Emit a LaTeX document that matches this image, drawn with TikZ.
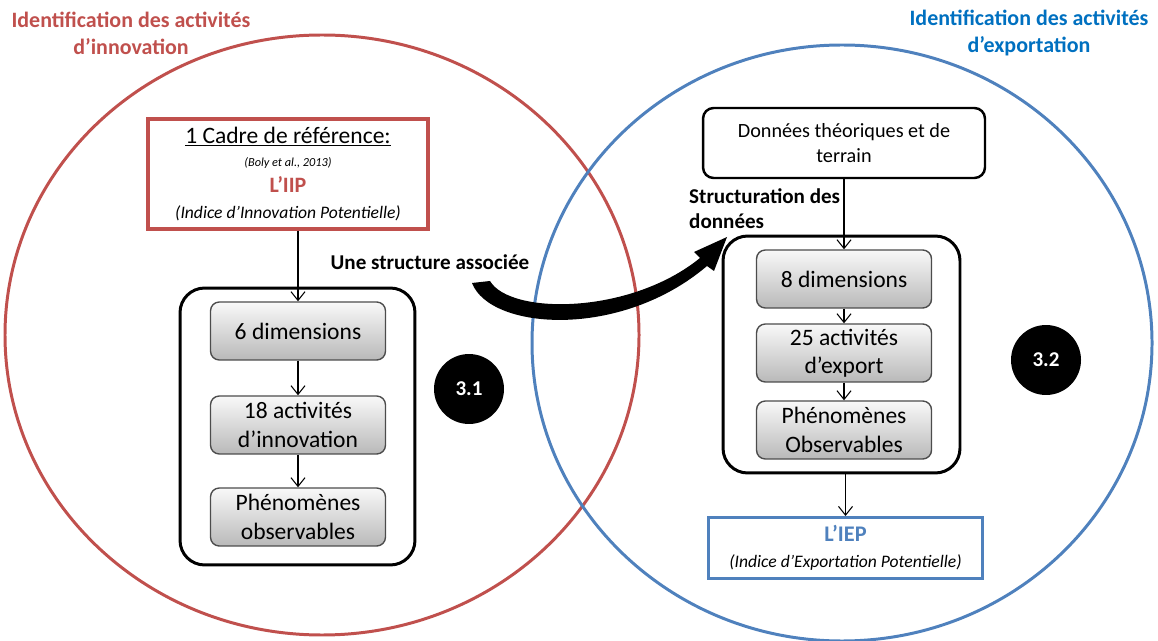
\documentclass[tikz,border=0pt]{standalone}
\usepackage{fontspec}
\setmainfont{Carlito}
\usetikzlibrary{arrows.meta}
\definecolor{rouge}{HTML}{C0504D}
\definecolor{bleu}{HTML}{4F81BD}
\definecolor{bleutitre}{HTML}{0070C0}

\begin{document}
\begin{tikzpicture}[x=0.02cm, y=-0.02cm,
	fleche/.style={line width=0.6pt, -{Straight Barb[length=5pt, width=8pt]}},
	bigbox/.style={draw, line width=1.7pt, rounded corners=14pt},
	graybox/.style={draw=black!70, line width=0.8pt, rounded corners=5pt, top color=gray!5, bottom color=gray!55,
		minimum width=3.5cm, minimum height=1.16cm, inner sep=1pt, align=center, font=\fontsize{13.4}{16.2}\selectfont},
	disque/.style={circle, fill=black, text=white, minimum size=1.4cm, font=\fontsize{12}{14}\bfseries},
	titre/.style={align=center, font=\fontsize{12.5}{15.3}\bfseries}]
	\useasboundingbox (0,0) rectangle (1158,641);
	%
	% les deux cercles
	\draw[rouge, line width=1.7pt] (322,335) ellipse [x radius=317, y radius=300];
	\draw[bleu, line width=1.7pt] (842,343) ellipse [x radius=310, y radius=298];
	%
	% titres
	\node[titre, text=rouge] (tinno) at (131,33) {Identification des activités\\d’innovation};
	\node[titre, text=bleutitre] (texpo) at (1029,33) {Identification des activités\\d’exportation};
	%
	% partie gauche
	\node[draw=rouge, line width=1.9pt, minimum width=5.6cm, minimum height=2.2cm, align=center, inner sep=2pt] (cadre) at (288,174)
		{\fontsize{13.4}{14}\selectfont\underline{1 Cadre de référence:}\\[1pt]
		 {\fontsize{7}{9}\itshape (Boly et al., 2013)}\\[3pt]
		 {\fontsize{12.5}{14}\bfseries\color{rouge} L’IIP}\\[3pt]
		 {\fontsize{10}{12}\itshape (Indice d’Innovation Potentielle)}};
	\node[bigbox, minimum width=4.7cm, minimum height=5.54cm] (boxg) at (297.5,426.5) {};
	\node[graybox] (dim6) at (298,331) {6 dimensions};
	\node[graybox] (act18) at (298,425) {18 activités\\d’innovation};
	\node[graybox] (phenog) at (298,517) {Phénomènes\\observables};
	\node[disque] (n31) at (469,389) {3.1};
	%
	% partie droite
	\node[draw, line width=1.4pt, rounded corners=6pt, minimum width=5.64cm, minimum height=1.4cm, align=center,
		font=\fontsize{11.5}{14}\selectfont] (donnees) at (844,143) {Données théoriques et de\\terrain};
	\node[anchor=west, align=left, font=\fontsize{12}{14.2}\bfseries] (struct) at (683,209) {Structuration des\\données};
	\node[bigbox, minimum width=4.74cm, minimum height=4.74cm] (boxd) at (841.5,354.5) {};
	\node[graybox] (dim8) at (844,279) {8 dimensions};
	\node[graybox] (act25) at (844,353) {25 activités\\d’export};
	\node[graybox] (phenod) at (844,430) {Phénomènes\\Observables};
	\node[draw=bleu, line width=1.7pt, minimum width=5.5cm, minimum height=1.22cm, align=center, inner sep=1pt] (iep) at (845.5,548)
		{{\fontsize{12.7}{14}\bfseries\color{bleu} L’IEP}\\[3pt]
		 {\fontsize{10}{12}\itshape (Indice d’Exportation Potentielle)}};
	\node[disque] (n32) at (1046,360) {3.2};
	%
	% fleche courbe
	\node[font=\fontsize{12}{14}\bfseries] (assoc) at (430,262) {Une structure associée};
	\fill (472,283) .. controls (490,330) and (620,340) .. (707,266) -- (714,271) -- (727,237)
		-- (694,252) -- (700,258) .. controls (630,315) and (510,315) .. (490,281) -- cycle;
	%
	% liaisons
	\draw[fleche] (cadre.south -| dim6.north) -- (dim6.north);
	\draw[fleche] (dim6) -- (act18);
	\draw[fleche] (act18) -- (phenog);
	\draw[fleche] (donnees) -- (dim8);
	\draw[fleche] (dim8) -- (act25);
	\draw[fleche] (act25) -- (phenod);
	\draw[fleche] (boxd.south -| iep.north) -- (iep.north);
\end{tikzpicture}
\end{document}
